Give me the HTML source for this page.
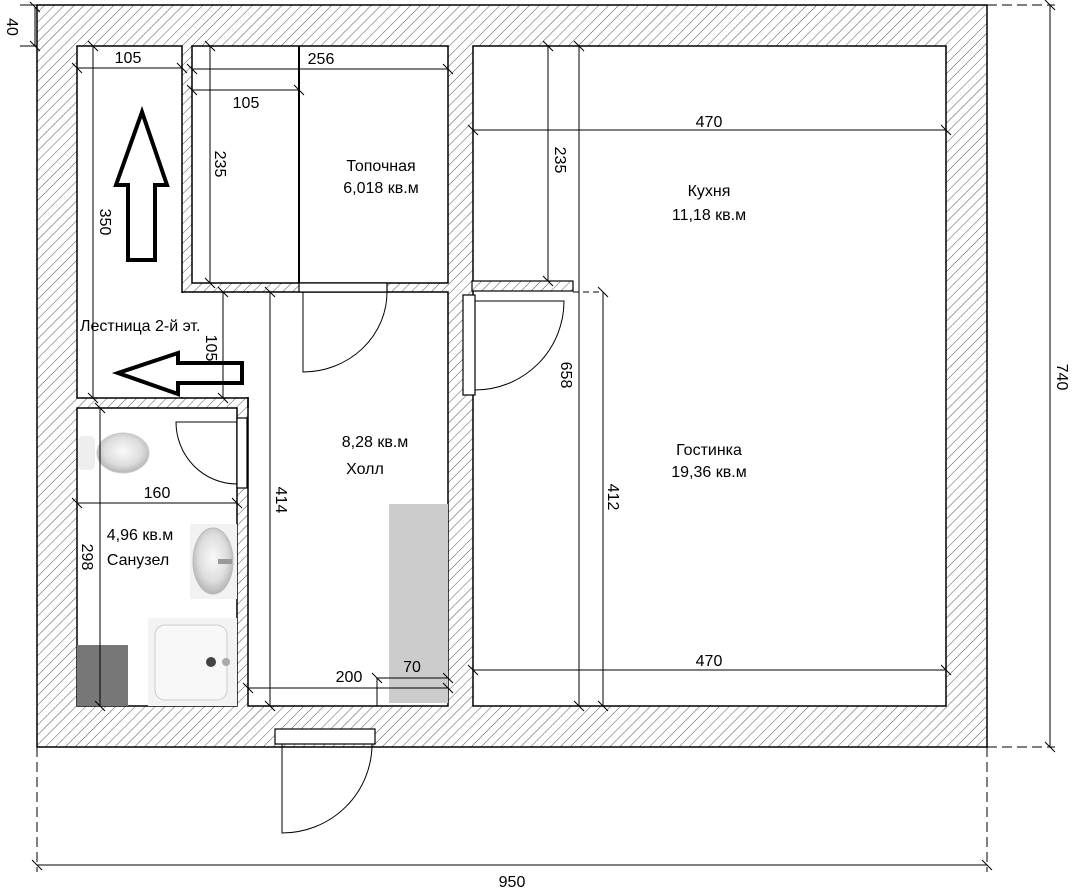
<!DOCTYPE html>
<html><head><meta charset="utf-8"><style>
html,body{margin:0;padding:0;background:#fff;}
svg{display:block;}
text{font-family:"Liberation Sans",sans-serif;font-size:16px;fill:#000;}
</style></head><body>
<svg width="1074" height="892" viewBox="0 0 1074 892" xmlns="http://www.w3.org/2000/svg">
<defs>
<pattern id="h" patternUnits="userSpaceOnUse" width="7" height="7" patternTransform="rotate(45)">
<rect width="7" height="7" fill="#fff"/><line x1="0" y1="0" x2="0" y2="7" stroke="#555" stroke-width="1"/>
</pattern>
<radialGradient id="g1" cx="50%" cy="45%" r="60%"><stop offset="0" stop-color="#fafafa"/><stop offset="0.6" stop-color="#ddd"/><stop offset="1" stop-color="#aaa"/></radialGradient>
</defs>
<rect x="37" y="5" width="950" height="742" fill="url(#h)" stroke="#000" stroke-width="1.5"/>
<g fill="#fff" stroke="#000" stroke-width="1.5">
<rect x="77" y="46" width="105" height="352"/>
<rect x="192" y="46" width="256" height="237"/>
<rect x="248" y="292" width="200" height="414"/>
<rect x="77" y="408" width="160" height="298"/>
<rect x="473" y="46" width="473" height="660"/>
</g>
<rect x="178" y="293" width="72" height="104" fill="#fff"/>
<polyline points="182,292 248,292" stroke="#000" stroke-width="1.5"/>
<polyline points="182,398 248,398 248,408" fill="none" stroke="#000" stroke-width="1.5"/>
<rect x="472" y="281" width="101" height="10" fill="url(#h)" stroke="#000" stroke-width="1.2"/>
<line x1="299" y1="46" x2="299" y2="283" stroke="#000" stroke-width="2"/>
<g fill="#fff" stroke="#000" stroke-width="1.2">
<rect x="299" y="283" width="88" height="9"/>
<rect x="463" y="295" width="12" height="100"/>
<rect x="237" y="418" width="10" height="70"/>
<rect x="275" y="729" width="100" height="15"/>
</g>
<g fill="none" stroke="#000" stroke-width="1">
<path d="M303,292 V372 A84,80 0 0 0 387,292"/>
<path d="M475,301 H564 A89,89 0 0 1 475,390"/>
<path d="M237,422 H176 A61,62 0 0 0 237,484"/>
<path d="M282,744 V833 A90,89 0 0 0 372,744"/>
</g>
<rect x="389" y="504" width="59" height="199" fill="#ccc"/>
<rect x="77" y="645" width="51" height="61" fill="#777"/>
<rect x="148" y="618" width="89" height="88" fill="#f3f3f3"/>
<rect x="155" y="625" width="72" height="75" rx="10" fill="#f8f8f8" stroke="#ccc"/>
<circle cx="211" cy="662" r="5" fill="#444"/><circle cx="226" cy="662" r="4" fill="#aaa"/>
<rect x="190" y="524" width="47" height="75" fill="#f2f2f2"/>
<ellipse cx="213" cy="561" rx="20" ry="33" fill="url(#g1)" stroke="#bbb"/>
<rect x="218" y="559" width="14" height="5" fill="#999"/>
<rect x="78" y="436" width="17" height="34" rx="5" fill="#eee"/>
<ellipse cx="123" cy="453" rx="26" ry="20" fill="url(#g1)" stroke="#ccc"/>
<g fill="#fff" stroke="#000" stroke-width="4" stroke-linejoin="miter">
<polygon points="142,112 116,185 128,185 128,260 155,260 155,185 167,185"/>
<polygon points="118,373 178,353 178,363 242,363 242,383 178,383 178,394"/>
</g>
<g stroke="#000" stroke-width="1" fill="none">
<line x1="35" y1="7" x2="35" y2="46"/><line x1="20" y1="5" x2="37" y2="5"/><line x1="20" y1="46" x2="37" y2="46"/>
<line x1="77" y1="68" x2="182" y2="68"/>
<line x1="93" y1="46" x2="93" y2="398"/>
<line x1="192" y1="69" x2="448" y2="69"/>
<line x1="192" y1="90" x2="299" y2="90"/>
<line x1="210" y1="46" x2="210" y2="283"/>
<line x1="223" y1="292" x2="223" y2="398"/>
<line x1="270" y1="292" x2="270" y2="706"/>
<line x1="473" y1="130" x2="946" y2="130"/>
<line x1="548" y1="46" x2="548" y2="281"/>
<line x1="579" y1="46" x2="579" y2="706"/>
<line x1="603" y1="292" x2="603" y2="706"/>
<line x1="573" y1="292" x2="603" y2="292" stroke-dasharray="6,4"/>
<line x1="473" y1="670" x2="946" y2="670"/>
<line x1="77" y1="503" x2="237" y2="503"/>
<line x1="100" y1="408" x2="100" y2="706"/>
<line x1="248" y1="688" x2="448" y2="688"/>
<line x1="377" y1="678" x2="448" y2="678"/>
<line x1="377" y1="678" x2="377" y2="706"/>
<line x1="37" y1="865" x2="987" y2="865"/>
<line x1="37" y1="747" x2="37" y2="872" stroke-dasharray="10,5"/>
<line x1="987" y1="747" x2="987" y2="872" stroke-dasharray="10,5"/>
<line x1="1050" y1="5" x2="1050" y2="747"/>
<line x1="987" y1="5" x2="1055" y2="5" stroke-dasharray="10,5"/>
<line x1="987" y1="747" x2="1055" y2="747" stroke-dasharray="10,5"/>
</g>
<g stroke="#000" stroke-width="1">
<path d="M30,2 l10,10 M30,41 l10,10 M72,63 l10,10 M177,63 l10,10 M88,41 l10,10 M88,393 l10,10
M187,64 l10,10 M443,64 l10,10 M187,85 l10,10 M294,85 l10,10 M205,41 l10,10 M205,278 l10,10
M218,287 l10,10 M218,393 l10,10 M265,287 l10,10 M265,701 l10,10 M468,125 l10,10 M941,125 l10,10
M543,41 l10,10 M543,276 l10,10 M574,41 l10,10 M574,701 l10,10 M598,287 l10,10 M598,701 l10,10
M468,665 l10,10 M941,665 l10,10 M72,498 l10,10 M232,498 l10,10 M95,403 l10,10 M95,701 l10,10
M243,683 l10,10 M443,683 l10,10 M372,673 l10,10 M443,673 l10,10 M32,860 l10,10 M982,860 l10,10
M1045,0 l10,10 M1045,742 l10,10"/>
</g>
<text x="128" y="63" text-anchor="middle">105</text>
<text x="321" y="64" text-anchor="middle">256</text>
<text x="246" y="108" text-anchor="middle">105</text>
<text x="709" y="127" text-anchor="middle">470</text>
<text x="709" y="666" text-anchor="middle">470</text>
<text x="157" y="498" text-anchor="middle">160</text>
<text x="349" y="682" text-anchor="middle">200</text>
<text x="412" y="672" text-anchor="middle">70</text>
<text x="512" y="887" text-anchor="middle">950</text>
<g text-anchor="middle">
<text transform="translate(215,164) rotate(90)">235</text>
<text transform="translate(100,222) rotate(90)">350</text>
<text transform="translate(206,348) rotate(90)">105</text>
<text transform="translate(276,500) rotate(90)">414</text>
<text transform="translate(555,160) rotate(90)">235</text>
<text transform="translate(561,375) rotate(90)">658</text>
<text transform="translate(608,497) rotate(90)">412</text>
<text transform="translate(82,557) rotate(90)">298</text>
<text transform="translate(1057,377) rotate(90)">740</text>
<text transform="translate(7,27) rotate(90)">40</text>
</g>
<text x="381" y="171" text-anchor="middle">Топочная</text>
<text x="381" y="193" text-anchor="middle">6,018 кв.м</text>
<text x="709" y="196" text-anchor="middle">Кухня</text>
<text x="709" y="220" text-anchor="middle">11,18 кв.м</text>
<text x="709" y="455" text-anchor="middle">Гостинка</text>
<text x="709" y="477" text-anchor="middle">19,36 кв.м</text>
<text x="375" y="447" text-anchor="middle">8,28 кв.м</text>
<text x="365" y="474" text-anchor="middle">Холл</text>
<text x="140" y="540" text-anchor="middle">4,96 кв.м</text>
<text x="138" y="565" text-anchor="middle">Санузел</text>
<text x="80" y="331">Лестница 2-й эт.</text>
</svg>
</body></html>
